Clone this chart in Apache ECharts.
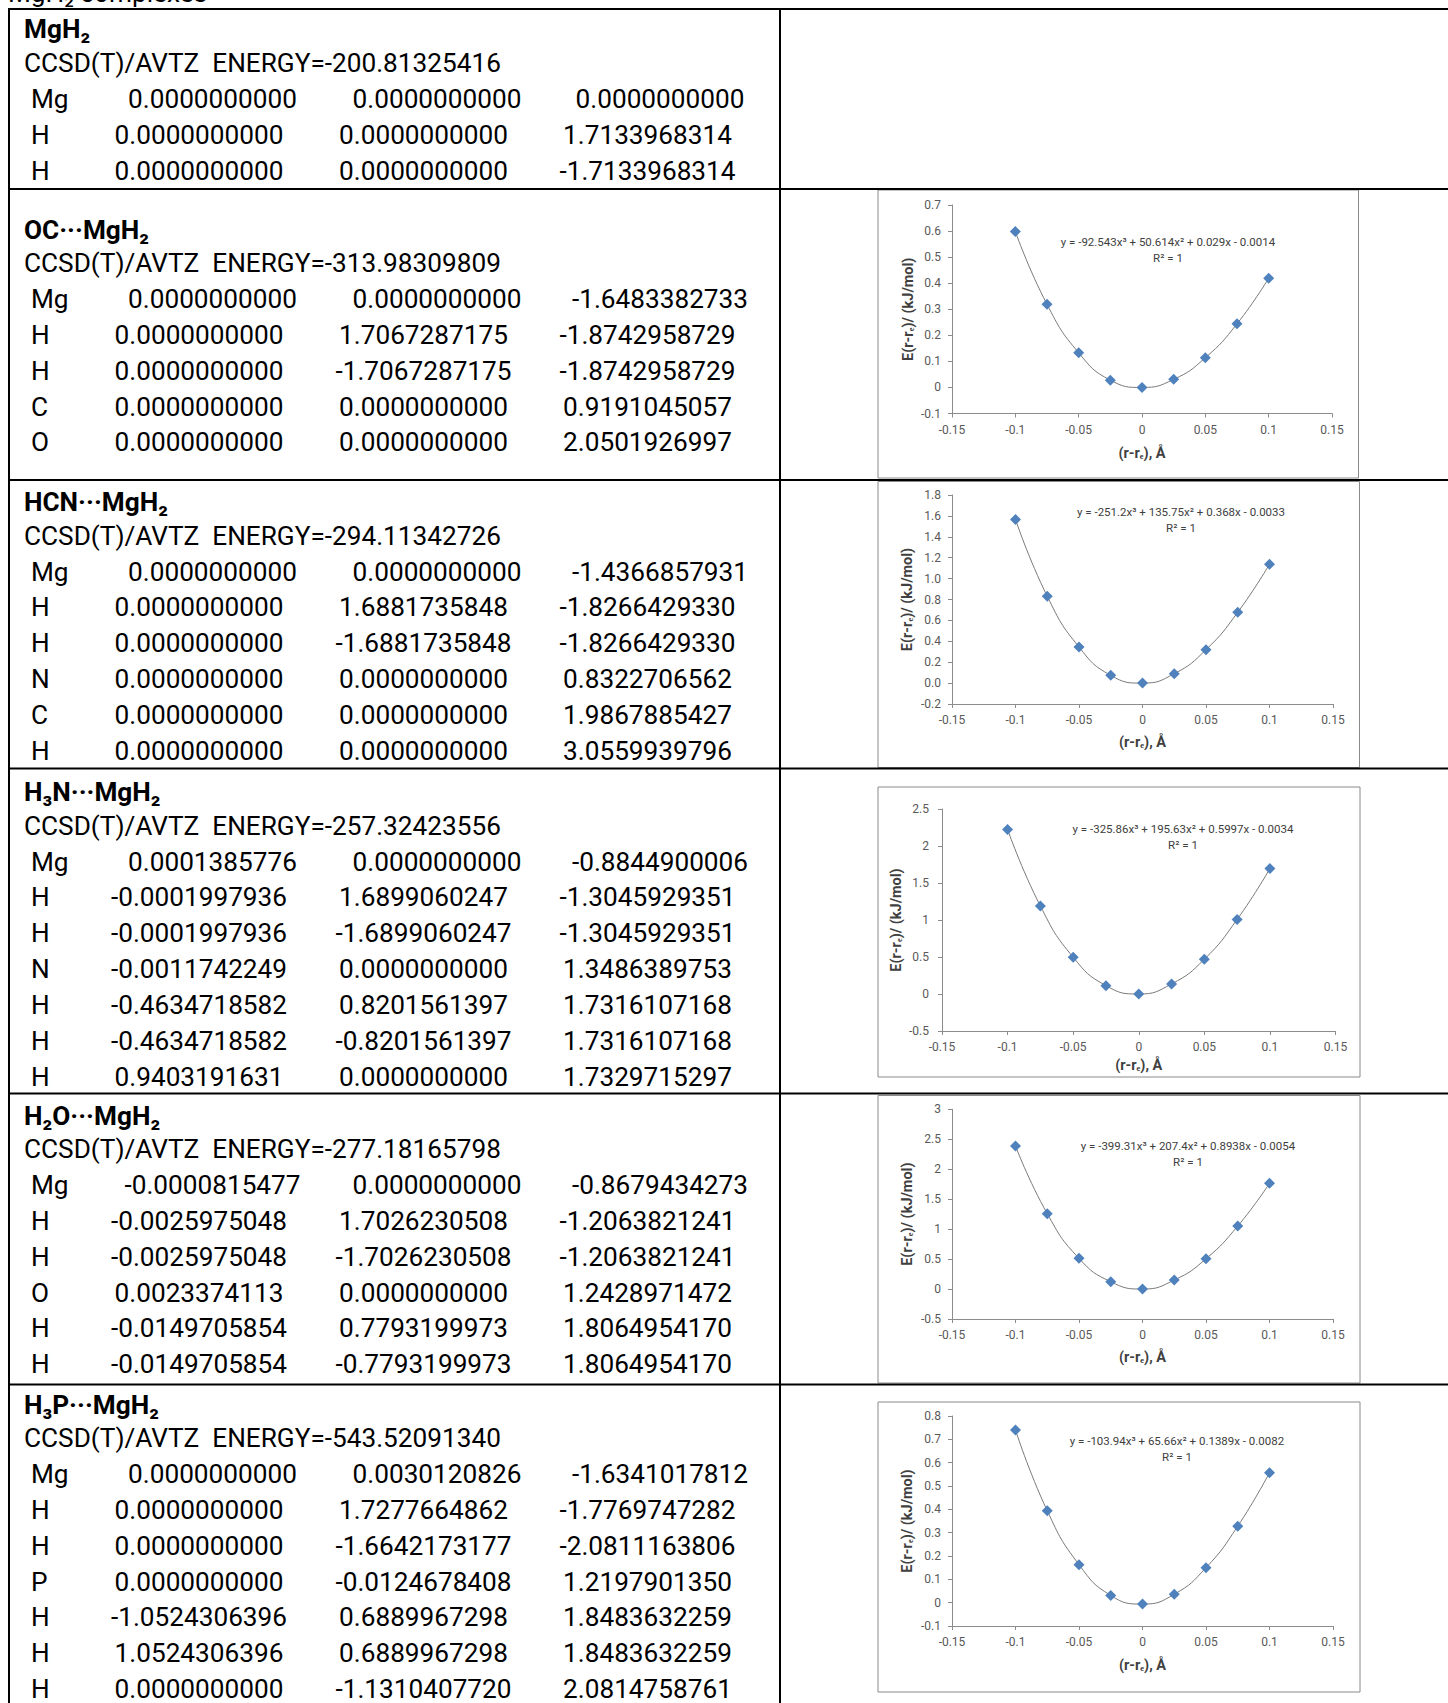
<!DOCTYPE html>
<html>
<head>
<meta charset="utf-8">
<script src="https://cdn.jsdelivr.net/npm/echarts@6/dist/echarts.min.js"></script>
<style>
html,body{margin:0;padding:0;background:#fff;}
#main{width:1448px;height:1703px;}
</style>
</head>
<body>
<div id="main"></div>
<script>
// ---------------- DATA ----------------
const pageTitle = 'MgH₂ complexes';
const methodLabel = 'CCSD(T)/AVTZ  ENERGY=';
const complexNames = ['MgH₂', 'OC···MgH₂', 'HCN···MgH₂', 'H₃N···MgH₂', 'H₂O···MgH₂', 'H₃P···MgH₂'];
const energies = ['-200.81325416', '-313.98309809', '-294.11342726', '-257.32423556', '-277.18165798', '-543.52091340'];

const geomMgH2 = [
  ['Mg', '0.0000000000', '0.0000000000', '0.0000000000'],
  ['H', '0.0000000000', '0.0000000000', '1.7133968314'],
  ['H', '0.0000000000', '0.0000000000', '-1.7133968314']
];
const geomOC = [
  ['Mg', '0.0000000000', '0.0000000000', '-1.6483382733'],
  ['H', '0.0000000000', '1.7067287175', '-1.8742958729'],
  ['H', '0.0000000000', '-1.7067287175', '-1.8742958729'],
  ['C', '0.0000000000', '0.0000000000', '0.9191045057'],
  ['O', '0.0000000000', '0.0000000000', '2.0501926997']
];
const geomHCN = [
  ['Mg', '0.0000000000', '0.0000000000', '-1.4366857931'],
  ['H', '0.0000000000', '1.6881735848', '-1.8266429330'],
  ['H', '0.0000000000', '-1.6881735848', '-1.8266429330'],
  ['N', '0.0000000000', '0.0000000000', '0.8322706562'],
  ['C', '0.0000000000', '0.0000000000', '1.9867885427'],
  ['H', '0.0000000000', '0.0000000000', '3.0559939796']
];
const geomH3N = [
  ['Mg', '0.0001385776', '0.0000000000', '-0.8844900006'],
  ['H', '-0.0001997936', '1.6899060247', '-1.3045929351'],
  ['H', '-0.0001997936', '-1.6899060247', '-1.3045929351'],
  ['N', '-0.0011742249', '0.0000000000', '1.3486389753'],
  ['H', '-0.4634718582', '0.8201561397', '1.7316107168'],
  ['H', '-0.4634718582', '-0.8201561397', '1.7316107168'],
  ['H', '0.9403191631', '0.0000000000', '1.7329715297']
];
const geomH2O = [
  ['Mg', '-0.0000815477', '0.0000000000', '-0.8679434273'],
  ['H', '-0.0025975048', '1.7026230508', '-1.2063821241'],
  ['H', '-0.0025975048', '-1.7026230508', '-1.2063821241'],
  ['O', '0.0023374113', '0.0000000000', '1.2428971472'],
  ['H', '-0.0149705854', '0.7793199973', '1.8064954170'],
  ['H', '-0.0149705854', '-0.7793199973', '1.8064954170']
];
const geomH3P = [
  ['Mg', '0.0000000000', '0.0030120826', '-1.6341017812'],
  ['H', '0.0000000000', '1.7277664862', '-1.7769747282'],
  ['H', '0.0000000000', '-1.6642173177', '-2.0811163806'],
  ['P', '0.0000000000', '-0.0124678408', '1.2197901350'],
  ['H', '-1.0524306396', '0.6889967298', '1.8483632259'],
  ['H', '1.0524306396', '0.6889967298', '1.8483632259'],
  ['H', '0.0000000000', '-1.1310407720', '2.0814758761']
];
const geometries = [geomMgH2, geomOC, geomHCN, geomH3N, geomH2O, geomH3P];

// displacement (r-re) in Å and energies in kJ/mol
const displacement = [-0.1, -0.075, -0.05, -0.025, 0, 0.025, 0.05, 0.075, 0.1];
const energyOC  = [0.598, 0.319, 0.133, 0.028, 0.0, 0.031, 0.114, 0.244, 0.419];
const energyHCN = [1.566, 0.831, 0.345, 0.074, 0.0, 0.090, 0.320, 0.678, 1.138];
const energyH3N = [2.224, 1.189, 0.497, 0.113, 0.0, 0.136, 0.470, 1.008, 1.695];
const energyH2O = [2.387, 1.258, 0.512, 0.122, 0.0, 0.150, 0.506, 1.052, 1.764];
const energyH3P = [0.740, 0.394, 0.163, 0.031, -0.006, 0.036, 0.150, 0.328, 0.557];
const chartEnergies = [energyOC, energyHCN, energyH3N, energyH2O, energyH3P];

const fitEquations = [
  'y = -92.543x³ + 50.614x² + 0.029x - 0.0014',
  'y = -251.2x³ + 135.75x² + 0.368x - 0.0033',
  'y = -325.86x³ + 195.63x² + 0.5997x - 0.0034',
  'y = -399.31x³ + 207.4x² + 0.8938x - 0.0054',
  'y = -103.94x³ + 65.66x² + 0.1389x - 0.0082'
];
const rSquared = 'R² = 1';

const xAxisMin = -0.15, xAxisMax = 0.15, xAxisStep = 0.05;
const yAxisMin  = [-0.1, -0.2, -0.5, -0.5, -0.1];
const yAxisMax  = [0.7, 1.8, 2.5, 3, 0.8];
const yAxisStep = [0.1, 0.2, 0.5, 0.5, 0.1];
const yLabelDecimals = [null, 1, null, null, null];
const xAxisTitle = '(r-rₑ), Å';
const yAxisTitle = 'E(r-rₑ)/ (kJ/mol)';

// ---------------- LAYOUT ----------------
const FONT = 'Roboto';
const BODY = 26.2;
const sectionTitleY = [29.3, 229.5, 502, 792, 1115.5, 1404.5];
const LINE = 35.85;
const colCenterH = [199, 423.5, 647.5];
const colCenterMg = [212.5, 437, 660];

const elements = [];
function txt(x, y, s, opt) {
  opt = opt || {};
  elements.push({
    type: 'text', x: x, y: y, silent: true, z: 10,
    style: {
      text: s, fill: opt.fill || '#000',
      fontFamily: FONT, fontSize: opt.size || BODY, fontWeight: opt.weight || 'normal',
      align: opt.align || 'left', verticalAlign: 'middle'
    }
  });
}
function hline(y, x1, x2, w, c) {
  elements.push({type: 'line', silent: true, z: 5, shape: {x1: x1, y1: y, x2: x2, y2: y}, style: {stroke: c, lineWidth: w}});
}
function vline(x, y1, y2, w, c) {
  elements.push({type: 'line', silent: true, z: 5, shape: {x1: x, y1: y1, x2: x, y2: y2}, style: {stroke: c, lineWidth: w}});
}

// page title, cut off by the top edge as in the reference
txt(8, -7, pageTitle);

// table lines
const rowLines = [9, 189, 480, 768.5, 1093.5, 1384.5];
rowLines.forEach(y => hline(y, 8, 1448, 2, '#000'));
vline(9, 8, 1703, 2, '#000');
vline(780, 8, 1703, 2, '#000');

// table text
geometries.forEach((geom, i) => {
  const ty = sectionTitleY[i];
  txt(24, ty, complexNames[i], {weight: 'bold'});
  txt(24, ty + 33.7, methodLabel + energies[i]);
  geom.forEach((row, k) => {
    const y = ty + 69.5 + k * LINE;
    const cols = row[0] === 'Mg' ? colCenterMg : colCenterH;
    txt(31, y, row[0]);
    for (let c = 0; c < 3; c++) txt(cols[c], y, row[c + 1], {align: 'center'});
  });
});

// chart frames
const frames = [
  [878, 190, 480.5, 288],
  [878, 481.5, 481.5, 286],
  [878, 787, 482, 290],
  [878, 1095.5, 482, 287.5],
  [878, 1402, 482, 290]
];
frames.forEach(f => elements.push({
  type: 'rect', silent: true, z: 1,
  shape: {x: f[0], y: f[1], width: f[2], height: f[3]},
  style: {fill: 'none', stroke: '#8a8a8a', lineWidth: 1}
}));

// chart plot areas
const grids = [
  {left: 952, top: 205, width: 380, height: 208.5},
  {left: 952, top: 495, width: 381, height: 209},
  {left: 942, top: 809, width: 393.5, height: 222},
  {left: 952, top: 1109.3, width: 381, height: 209.7},
  {left: 952, top: 1416, width: 381, height: 210}
];
const eqPos = [[1168, 242.3], [1181, 512], [1183, 829], [1188, 1145.7], [1177, 1440.7]];
const xNameGap = [32, 31, 27, 31, 32];
const yNameGap = [36.5, 37, 38, 37, 37];
const yLabelMargin = [11, 11, 13, 11, 11];

eqPos.forEach((p, i) => {
  txt(p[0], p[1], fitEquations[i], {size: 11.5, align: 'center', fill: '#404040'});
  txt(p[0], p[1] + 16, rSquared, {size: 11.5, align: 'center', fill: '#404040'});
});

const axisColor = '#8c8c8c';
const labelColor = '#595959';
const fmt = v => String(Math.round(v * 1000) / 1000);

const xAxes = [], yAxes = [], series = [];
grids.forEach((g, i) => {
  xAxes.push({
    gridIndex: i, type: 'value', min: xAxisMin, max: xAxisMax, interval: xAxisStep,
    axisLine: {show: true, onZero: false, lineStyle: {color: axisColor, width: 1}},
    axisTick: {show: true, length: 4, lineStyle: {color: axisColor}},
    axisLabel: {show: true, fontFamily: FONT, fontSize: 12, color: labelColor, margin: 10, formatter: fmt},
    splitLine: {show: false},
    name: xAxisTitle, nameLocation: 'middle', nameGap: xNameGap[i],
    nameTextStyle: {fontFamily: FONT, fontSize: 14.5, fontWeight: 'bold', color: '#404040'}
  });
  yAxes.push({
    gridIndex: i, type: 'value', min: yAxisMin[i], max: yAxisMax[i], interval: yAxisStep[i],
    axisLine: {show: true, onZero: false, lineStyle: {color: axisColor, width: 1}},
    axisTick: {show: true, length: 4, lineStyle: {color: axisColor}},
    axisLabel: {
      show: true, fontFamily: FONT, fontSize: 12, color: labelColor, margin: yLabelMargin[i],
      formatter: v => yLabelDecimals[i] != null ? v.toFixed(yLabelDecimals[i]) : fmt(v)
    },
    splitLine: {show: false},
    name: yAxisTitle, nameLocation: 'middle', nameGap: yNameGap[i],
    nameTextStyle: {fontFamily: FONT, fontSize: 14.5, fontWeight: 'bold', color: '#404040'}
  });
  series.push({
    type: 'line', xAxisIndex: i, yAxisIndex: i,
    data: displacement.map((x, j) => [x, chartEnergies[i][j]]),
    smooth: true, showAllSymbol: true,
    symbol: 'diamond', symbolSize: 11,
    itemStyle: {color: '#4F81BD'},
    lineStyle: {color: '#7a7a7a', width: 1},
    emphasis: {disabled: true}, silent: true, z: 3
  });
});

const chart = echarts.init(document.getElementById('main'), null, {renderer: 'svg', width: 1448, height: 1703});
chart.setOption({
  backgroundColor: '#fff',
  animation: false,
  grid: grids.map(g => Object.assign({containLabel: false, outerBoundsMode: 'none'}, g)),
  xAxis: xAxes,
  yAxis: yAxes,
  series: series,
  graphic: {elements: elements}
});
</script>
</body>
</html>
